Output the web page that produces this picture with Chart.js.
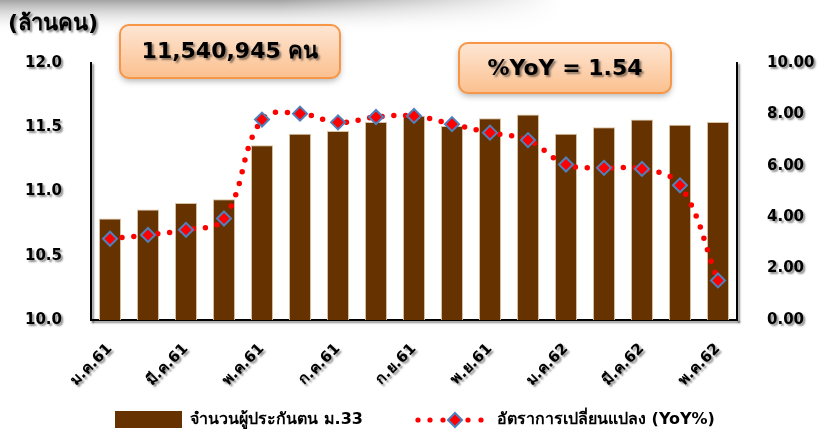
<!DOCTYPE html>
<html>
<head>
<meta charset="utf-8">
<script src="https://cdn.jsdelivr.net/npm/chart.js@4.4.1/dist/chart.umd.min.js"></script>
<style>
  html, body { margin: 0; padding: 0; background: #fff; }
  #wrap { width: 820px; height: 435px; position: relative; }
</style>
</head>
<body>
<div id="wrap"><canvas id="chart" width="820" height="435"></canvas></div>
<script>
const months = ['ม.ค.61', 'ก.พ.61', 'มี.ค.61', 'เม.ย.61', 'พ.ค.61', 'มิ.ย.61', 'ก.ค.61', 'ส.ค.61', 'ก.ย.61',
    'ต.ค.61', 'พ.ย.61', 'ธ.ค.61', 'ม.ค.62', 'ก.พ.62', 'มี.ค.62', 'เม.ย.62', 'พ.ค.62'];
const insured = [10.79, 10.86, 10.91, 10.94, 11.36, 11.45, 11.47, 11.54, 11.59,
    11.51, 11.57, 11.60, 11.45, 11.50, 11.56, 11.52, 11.54];
const yoy = [3.16, 3.31, 3.51, 3.95, 7.80, 8.03, 7.69, 7.90, 7.94,
    7.62, 7.29, 7.00, 6.05, 5.92, 5.88, 5.24, 1.54];

const FONT = "'DejaVu Sans', 'Noto Sans', sans-serif";
const CORES = { bar: '#663300', barBorder: '#d8c2a4', line: '#ff0000', mark: '#4f81bd', box: '#f79646' };

function roundRect(ctx, x, y, w, h, r) {
    ctx.beginPath();
    ctx.moveTo(x + r, y);
    ctx.arcTo(x + w, y, x + w, y + h, r);
    ctx.arcTo(x + w, y + h, x, y + h, r);
    ctx.arcTo(x, y + h, x, y, r);
    ctx.arcTo(x, y, x + w, y, r);
    ctx.closePath();
}

function callout(ctx, x, y, w, h, txt) {
    ctx.save();
    ctx.shadowColor = 'rgba(0,0,0,0.3)';
    ctx.shadowBlur = 6;
    ctx.shadowOffsetY = 3;
    const g = ctx.createLinearGradient(0, y, 0, y + h);
    g.addColorStop(0, '#fee6d4');
    g.addColorStop(1, '#fbc08e');
    roundRect(ctx, x, y, w, h, 9);
    ctx.fillStyle = g;
    ctx.fill();
    ctx.shadowColor = 'transparent';
    ctx.lineWidth = 2;
    ctx.strokeStyle = CORES.box;
    ctx.stroke();
    ctx.shadowColor = 'rgba(0,0,0,0.45)';
    ctx.shadowOffsetX = 2;
    ctx.shadowOffsetY = 2;
    ctx.shadowBlur = 2;
    ctx.fillStyle = '#000';
    ctx.font = `bold 22px ${FONT}`;
    ctx.textAlign = 'center';
    ctx.textBaseline = 'middle';
    ctx.fillText(txt, x + w / 2, y + h / 2 + 1);
    ctx.restore();
}

const decor = {
    id: 'decor',
    beforeDraw(chart) {
        const ctx = chart.ctx;
        ctx.save();
        ctx.fillStyle = '#fff';
        ctx.fillRect(0, 0, chart.width, chart.height);
        const g = ctx.createLinearGradient(0, 0, 0, 34);
        g.addColorStop(0, 'rgba(140,140,140,0.8)');
        g.addColorStop(1, 'rgba(255,255,255,0)');
        ctx.fillStyle = g;
        ctx.fillRect(0, 0, chart.width, 34);
        const h = ctx.createLinearGradient(280, 0, 560, 0);
        h.addColorStop(0, 'rgba(255,255,255,0)');
        h.addColorStop(1, 'rgba(255,255,255,1)');
        ctx.fillStyle = h;
        ctx.fillRect(0, 0, chart.width, 34);
        ctx.restore();
        // text shadow for axes
        ctx.shadowColor = 'rgba(0,0,0,0.45)';
        ctx.shadowOffsetX = 2;
        ctx.shadowOffsetY = 2;
        ctx.shadowBlur = 2;
    },
    beforeDatasetsDraw(chart) {
        const ctx = chart.ctx;
        ctx.shadowColor = 'transparent';
        ctx.shadowOffsetX = 0;
        ctx.shadowOffsetY = 0;
        ctx.shadowBlur = 0;
    },
    afterDraw(chart) {
        const ctx = chart.ctx;
        ctx.save();
        ctx.shadowColor = 'rgba(0,0,0,0.45)';
        ctx.shadowOffsetX = 2;
        ctx.shadowOffsetY = 2;
        ctx.shadowBlur = 2;
        ctx.fillStyle = '#000';
        ctx.font = `bold 22px ${FONT}`;
        ctx.textBaseline = 'middle';
        ctx.fillText('(ล้านคน)', 8, 24);
        ctx.restore();

        callout(ctx, 120, 25, 220, 53, '11,540,945 คน');
        callout(ctx, 459, 43, 212, 50, '%YoY = 1.54');

        // legend
        ctx.save();
        ctx.fillStyle = CORES.bar;
        ctx.fillRect(115, 411, 67, 17);
        ctx.fillStyle = '#000';
        ctx.font = `bold 16px ${FONT}`;
        ctx.textBaseline = 'middle';
        ctx.fillText(chart.data.datasets[1].label, 190, 420);
        ctx.fillStyle = CORES.line;
        [418, 430, 443, 468, 481].forEach(x => {
            ctx.beginPath();
            ctx.arc(x, 420, 2.6, 0, Math.PI * 2);
            ctx.fill();
        });
        ctx.beginPath();
        ctx.moveTo(455, 413); ctx.lineTo(462, 420); ctx.lineTo(455, 427); ctx.lineTo(448, 420);
        ctx.closePath();
        ctx.fill();
        ctx.lineWidth = 2;
        ctx.strokeStyle = CORES.mark;
        ctx.stroke();
        ctx.fillStyle = '#000';
        ctx.fillText(chart.data.datasets[0].label, 497, 420);
        ctx.restore();
    }
};

new Chart(document.getElementById('chart'), {
    data: {
        labels: months,
        datasets: [
            {
                type: 'line',
                label: 'อัตราการเปลี่ยนแปลง (YoY%)',
                data: yoy,
                yAxisID: 'y1',
                order: 0,
                borderColor: CORES.line,
                borderWidth: 5.5,
                borderDash: [0, 12],
                borderCapStyle: 'round',
                tension: 0.4,
                pointStyle: 'rectRot',
                pointRadius: 7,
                pointBackgroundColor: CORES.line,
                pointBorderColor: CORES.mark,
                pointBorderWidth: 2
            },
            {
                type: 'bar',
                label: 'จำนวนผู้ประกันตน ม.33',
                data: insured,
                yAxisID: 'y',
                order: 1,
                backgroundColor: CORES.bar,
                borderColor: CORES.barBorder,
                borderWidth: 1,
                categoryPercentage: 1,
                barPercentage: 0.58
            }
        ]
    },
    options: {
        responsive: false,
        animation: false,
        layout: { padding: { top: 63, left: 0, right: 0, bottom: 0 } },
        plugins: { legend: { display: false }, tooltip: { enabled: false } },
        scales: {
            x: {
                grid: { display: false, drawTicks: false },
                border: { display: true, color: '#000', width: 2 },
                ticks: {
                    autoSkip: false, maxRotation: 45, minRotation: 45, padding: 20,
                    color: '#000', font: { family: FONT, size: 15, weight: 'bold' },
                    callback: (v, i) => i % 2 === 0 ? months[i] : ''
                },
                afterFit: s => { s.height = 115; }
            },
            y: {
                position: 'left', min: 10, max: 12,
                grid: { display: false, drawTicks: false },
                border: { display: true, color: '#000', width: 2 },
                ticks: {
                    stepSize: 0.5, padding: 29, color: '#000',
                    font: { family: FONT, size: 15, weight: 'bold' },
                    callback: v => v.toFixed(1)
                },
                afterFit: s => { s.width = 91; }
            },
            y1: {
                position: 'right', min: 0, max: 10,
                grid: { display: false, drawTicks: false },
                border: { display: true, color: '#000', width: 2 },
                ticks: {
                    stepSize: 2, padding: 30, color: '#000',
                    font: { family: FONT, size: 15, weight: 'bold' },
                    callback: v => v.toFixed(2)
                },
                afterFit: s => { s.width = 83; }
            }
        }
    },
    plugins: [decor]
});
</script>
</body>
</html>
